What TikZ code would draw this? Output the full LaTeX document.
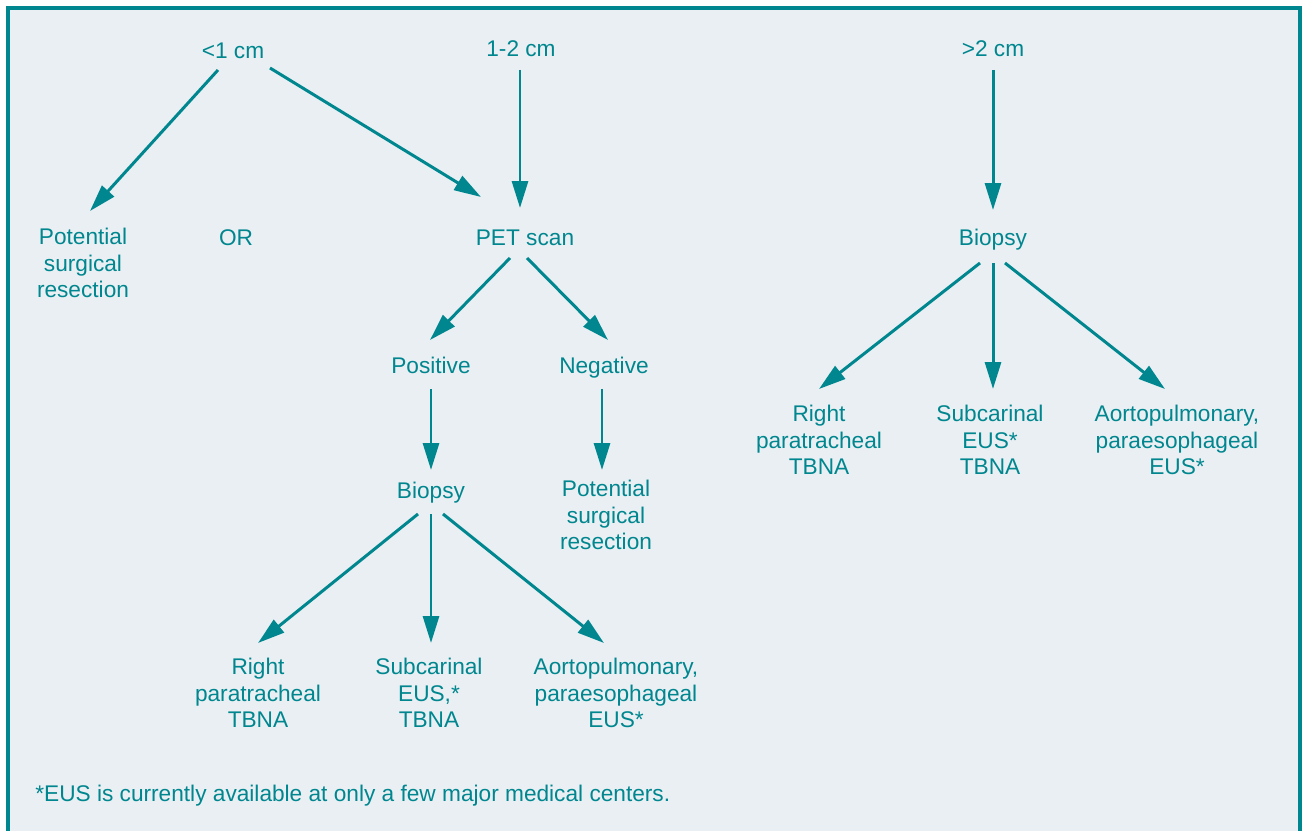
\documentclass[tikz,border=0pt]{standalone}
\usepackage{fontspec}
\setmainfont{Liberation Sans}
\usetikzlibrary{arrows.meta, calc}
\definecolor{flow}{HTML}{00868F}
\definecolor{panel}{HTML}{E9EFF2}

\begin{document}
\begin{tikzpicture}[
    x=0.02cm, y=-0.02cm,
    lbl/.style={text=flow, font=\fontsize{12.9}{15.2}\selectfont, align=center, inner sep=0pt},
    word/.style={lbl, text height=9.2pt, text depth=0pt},
    arr/.style={-{Triangle[length=0.54cm, width=0.32cm]}, line width=1.7pt, draw=flow},
]

\useasboundingbox (0,0) rectangle (1302,831);
\clip (0,0) rectangle (1302,831);

% Panel
\draw[line width=2pt, draw=flow, fill=panel] (8,8) rectangle (1300,860);

% Size categories
\node[word] (small) at (233, 50) {<1 cm};
\node[word] (mid) at (521, 48) {1-2 cm};
\node[word] (large) at (993, 48) {>2 cm};

% Second row
\node[lbl] (resA) at (83, 263) {Potential\\surgical\\resection};
\node[word] (or) at (236, 237) {OR};
\node[word] (pet) at (525, 237) {PET scan};
\node[word] (biopR) at (993, 237) {Biopsy};

\draw[arr] ($(small)+(-15,20)$) -- ($(resA)+(7,-52)$);
\draw[arr] ($(small)+(37,18)$) -- ($(pet)+(-44,-40)$);
\draw[arr] ($(mid)+(-1,22)$) -- ($(pet)+(-5,-29)$);
\draw[arr] ($(large)+(0,22)$) -- ($(biopR)+(0,-27)$);

% PET branch
\node[word] (pos) at (431, 365) {Positive};
\node[word] (neg) at (604, 365) {Negative};

\draw[arr] ($(pet)+(-15,21)$) -- ($(pos)+(-1,-25)$);
\draw[arr] ($(pet)+(2,21)$) -- ($(neg)+(4,-25)$);

\node[word] (biopL) at (431, 490) {Biopsy};
\node[lbl] (resB) at (606, 515) {Potential\\surgical\\resection};

\draw[arr] ($(pos)+(0,24)$) -- ($(biopL)+(0,-20)$);
\draw[arr] ($(neg)+(-2,24)$) -- ($(resB)+(-4,-45)$);

% Biopsy targets (left)
\node[lbl] (rtL) at (258, 693) {Right\\paratracheal\\TBNA};
\node[lbl] (subL) at (429, 693) {Subcarinal\\EUS,*\\TBNA};
\node[lbl] (aoL) at (616, 693) {Aortopulmonary,\\paraesophageal\\EUS*};

\draw[arr] ($(biopL)+(-13,24)$) -- ($(rtL)+(0,-50)$);
\draw[arr] ($(biopL)+(0,24)$) -- ($(subL)+(2,-50)$);
\draw[arr] ($(biopL)+(12,24)$) -- ($(aoL)+(-12,-50)$);

% Biopsy targets (right)
\node[lbl] (rtR) at (819, 440) {Right\\paratracheal\\TBNA};
\node[lbl] (subR) at (990, 440) {Subcarinal\\EUS*\\TBNA};
\node[lbl] (aoR) at (1177, 440) {Aortopulmonary,\\paraesophageal\\EUS*};

\draw[arr] ($(biopR)+(-13,26)$) -- ($(rtR)+(0,-51)$);
\draw[arr] ($(biopR)+(0,26)$) -- ($(subR)+(3,-51)$);
\draw[arr] ($(biopR)+(12,26)$) -- ($(aoR)+(-12,-51)$);

% Footnote
\node[lbl, anchor=west] (note) at (35, 796) {*EUS is currently available at only a few major medical centers.};

\end{tikzpicture}
\end{document}
